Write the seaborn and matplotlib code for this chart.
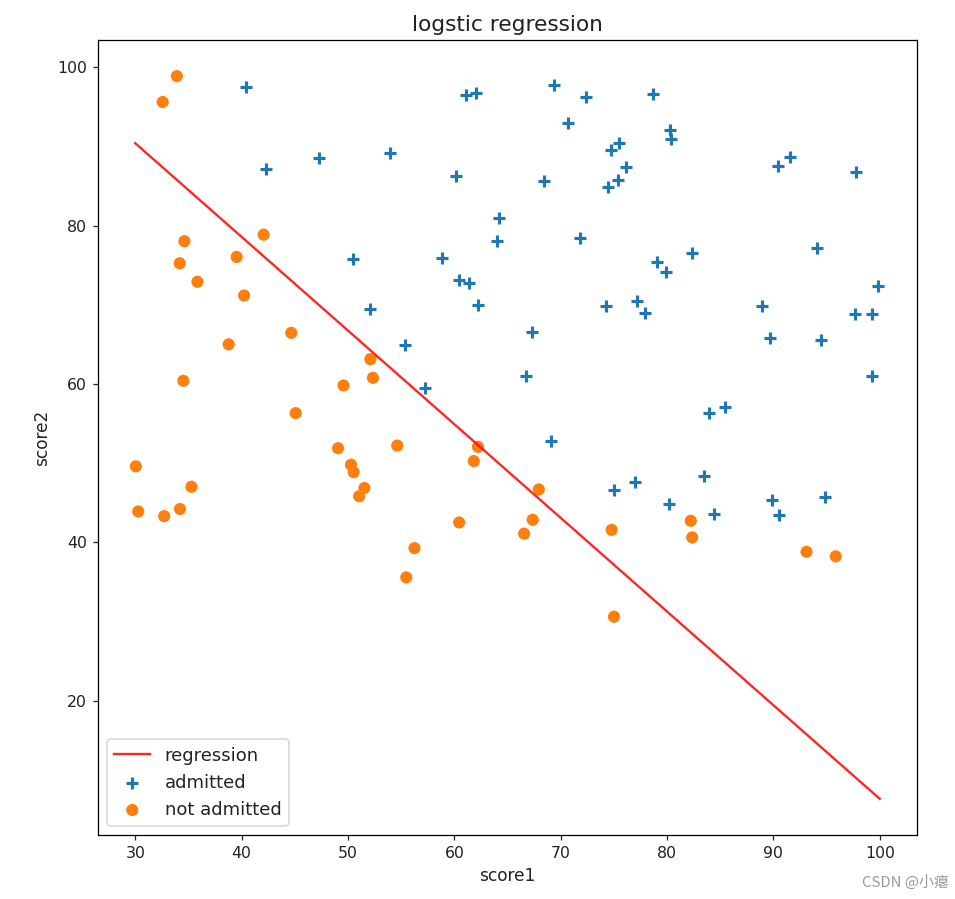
import numpy as np
import pandas as pd
import matplotlib
matplotlib.use("Agg")
import matplotlib.pyplot as plt
import seaborn as sns

score1 = [34.62365962451697, 30.28671076822607, 35.84740876993872, 60.18259938620976, 79.0327360507101,
          45.08327747668339, 61.10666453684766, 75.02474556738889, 76.09878670226257, 84.43281996120035,
          95.86155507093572, 75.01365838958247, 82.30705337399482, 69.36458875970939, 39.53833914367223,
          53.9710521485623, 69.07014406283025, 67.94685547711617, 70.66150955499435, 76.97878372747498,
          67.37202754570876, 89.67677575072079, 50.534788289883, 34.21206097786789, 77.9240914545704,
          62.27101367004632, 80.1901807509566, 93.114388797442, 61.83020602312595, 38.78580379679423,
          61.379289447425, 85.40451939411645, 52.10797973193984, 52.04540476831827, 40.23689373545111,
          54.63510555424817, 33.91550010906887, 64.17698887494485, 74.78925295941542, 34.1836400264419,
          83.90239366249155, 51.54772026906181, 94.44336776917852, 82.36875375713919, 51.04775177128865,
          62.22267576120188, 77.19303492601364, 97.77159928000232, 62.07306379667647, 91.56497449807442,
          79.94481794066932, 99.2725269292572, 90.54671411399852, 34.52451385320009, 50.2864961189907,
          49.58667721632031, 97.64563396007767, 32.57720016809309, 74.24869136721598, 71.79646205863379,
          75.3956114656803, 35.28611281526193, 56.25381749711624, 30.05882244669796, 44.66826172480893,
          66.56089447242954, 40.45755098375164, 49.07256321908844, 80.27957401466998, 66.74671856944039,
          32.72283304060323, 64.0393204150601, 72.34649422579923, 60.45788573918959, 58.84095621726802,
          99.82785779692128, 47.26426910848174, 50.45815980285988, 60.45555629271532, 82.22666157785568,
          88.9138964166533, 94.83450672430196, 67.31925746917527, 57.23870631569862, 80.36675600171273,
          68.46852178591112, 42.0754545384731, 75.47770200533905, 78.63542434898018, 52.34800398794107,
          94.09433112516793, 90.44855097096364, 55.48216114069585, 74.49269241843041, 89.84580670707683,
          83.48916274498238, 42.26170081325097, 99.31500880510394, 55.34001756003703, 74.77589300092767]

score2 = [78.0246928153624, 43.89499752400101, 72.90219802708364, 86.30855209546826, 75.3443764369103,
          56.3163717815305, 96.51142588489624, 46.55401354116538, 87.42056971926803, 43.53339331072109,
          38.22527805795094, 30.60326323428011, 76.48196330235604, 97.71869196188608, 76.03681085115882,
          89.20735013750205, 52.74046973016765, 46.67857410673128, 92.92713789364831, 47.57596364975532,
          42.83843832029179, 65.79936592745237, 48.85581152764205, 44.20952859866288, 68.9723599933059,
          69.95445795447587, 44.82162893218353, 38.80067033713209, 50.25610789244621, 64.99568095539578,
          72.80788731317097, 57.05198397627122, 63.12762376881715, 69.43286012045222, 71.16774802184875,
          52.21388588061123, 98.86943574220611, 80.90806058670817, 41.57341522824434, 75.2377203360134,
          56.30804621605327, 46.85629026349976, 65.56892160559052, 40.61825515970618, 45.82270145776001,
          52.06099194836679, 70.45820000180959, 86.7278223300282, 96.76882412413983, 88.69629254546599,
          74.16311935043758, 60.99903099844988, 43.39060180650027, 60.39634245837173, 49.80453881323059,
          59.80895099453265, 68.86157272420604, 95.59854761387875, 69.82457122657193, 78.45356224515052,
          85.75993667331619, 47.02051394723416, 39.26147251058019, 49.59297386723685, 66.45008614558913,
          41.09209807936973, 97.53518548909936, 51.88321182073966, 92.11606081344084, 60.99139402740988,
          43.30717306430063, 78.03168802018232, 96.22759296761404, 73.09499809758037, 75.85844831279042,
          72.36925193383885, 88.47586499559782, 75.80985952982456, 42.50840943572217, 42.71987853716458,
          69.80378889835472, 45.69430680250754, 66.58935317747915, 59.51428198012956, 90.96014789746954,
          85.59430710452014, 78.84478600148043, 90.42453899753964, 96.64742716885644, 60.76950525602592,
          77.15910509073893, 87.50879176484702, 35.57070347228866, 84.84513684930135, 45.35828361091658,
          48.38028579728175, 87.10385094025457, 68.77540947206617, 64.9319380069486, 89.52981289513276]

admitted = [0, 0, 0, 1, 1, 0, 1, 1, 1, 1, 0, 0, 1, 1, 0, 1, 1, 0, 1, 1,
            0, 1, 0, 0, 1, 1, 1, 0, 0, 0, 1, 1, 0, 1, 0, 0, 0, 1, 0, 0,
            1, 0, 1, 0, 0, 0, 1, 1, 1, 1, 1, 1, 1, 0, 0, 0, 1, 0, 1, 1,
            1, 0, 0, 0, 0, 0, 1, 0, 1, 1, 0, 1, 1, 1, 1, 1, 1, 1, 0, 0,
            1, 1, 1, 1, 1, 1, 0, 1, 1, 0, 1, 1, 0, 1, 1, 1, 1, 1, 1, 1]

line_x = [30.0, 100.0]
line_y = [90.4, 7.6]

df = pd.DataFrame({"score1": score1, "score2": score2, "admitted": admitted})
pos = df[df["admitted"] == 1]
neg = df[df["admitted"] == 0]

plt.rcParams["font.size"] = 11.5
plt.rcParams["xtick.labelsize"] = 10
plt.rcParams["ytick.labelsize"] = 10
plt.rcParams["axes.labelsize"] = 10.8
plt.rcParams["text.color"] = "#222222"
plt.rcParams["xtick.color"] = "#222222"
plt.rcParams["ytick.color"] = "#222222"
plt.rcParams["axes.labelcolor"] = "#222222"

DPI = 113
fig = plt.figure(figsize=(955 / DPI, 899 / DPI), dpi=DPI)
ax = fig.add_axes([98 / 955, 1 - 835 / 899, (917 - 98) / 955, (835 - 40) / 899])

sns.lineplot(x=line_x, y=line_y, color="r", alpha=0.85, label="regression", ax=ax)
sns.scatterplot(data=pos, x="score1", y="score2", marker="+", color="C0", s=60,
                linewidth=2, label="admitted", ax=ax)
sns.scatterplot(data=neg, x="score1", y="score2", marker="o", color="C1", s=60,
                linewidth=0, edgecolor="none", label="not admitted", ax=ax)

ax.set_title("logstic regression")
ax.set_xlabel("score1")
ax.set_ylabel("score2")
ax.legend(loc="lower left")

fig.text(0.993, 0.01, "CSDN @小瘪", ha="right", va="bottom", color="#999999", fontsize=9.5,
         family=["Noto Sans CJK SC", "DejaVu Sans"])

fig.savefig("out.png", dpi=DPI)
